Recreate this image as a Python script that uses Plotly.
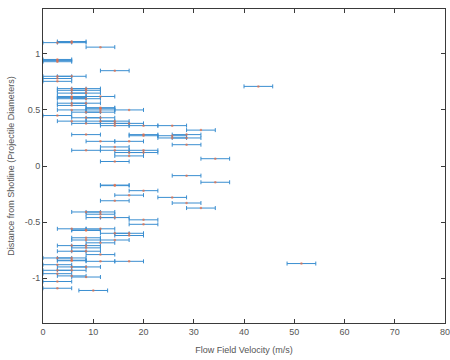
import plotly.graph_objects as go

U = 20.0 / 7.0  # velocity quantum (m/s)

# Each bar: distance from shotline, left/right velocity in units of U
dist = [
    1.11, 1.10, 1.10, 1.06, 0.95, 0.94, 0.93, 0.85, 0.80, 0.80, 0.78, 0.755, 0.71,
    0.69, 0.69, 0.675, 0.675, 0.65, 0.65, 0.62, 0.62, 0.61, 0.60, 0.60, 0.56, 0.56,
    0.54, 0.52, 0.515, 0.50, 0.50, 0.50, 0.48, 0.48, 0.45, 0.43, 0.43, 0.40, 0.40,
    0.40, 0.38, 0.38, 0.38, 0.36, 0.36, 0.36, 0.32, 0.28, 0.28, 0.28, 0.27, 0.27,
    0.25, 0.25, 0.22, 0.22, 0.19, 0.17, 0.14, 0.14, 0.14, 0.12, 0.12, 0.09, 0.065,
    0.04,
    -0.086, -0.145, -0.17, -0.175, -0.22, -0.26, -0.28, -0.31, -0.33, -0.375, -0.41,
    -0.41, -0.43, -0.46, -0.46, -0.48, -0.52, -0.56, -0.56, -0.57, -0.575, -0.60,
    -0.60, -0.62, -0.64, -0.66, -0.66, -0.685, -0.71, -0.71, -0.73, -0.76, -0.76,
    -0.79, -0.82, -0.82, -0.84, -0.845, -0.85, -0.85, -0.87, -0.88, -0.90, -0.90,
    -0.93, -0.93, -0.96, -0.98, -0.99, -1.03, -1.09, -1.11,
]
left_u = [
    1, 1, 0, 3, 0, 0, 0, 4, 1, 0, 0, 0, 14,
    1, 2, 1, 2, 1, 2, 1, 3, 1, 1, 2, 1, 2,
    1, 3, 3, 1, 3, 5, 2, 3, 0, 2, 3, 1, 3,
    4, 2, 4, 5, 4, 6, 8, 10, 2, 6, 9, 6, 8,
    8, 9, 3, 5, 9, 4, 2, 4, 6, 5, 6, 5, 11,
    4,
    9, 11, 4, 4, 6, 5, 8, 4, 9, 10, 2,
    3, 3, 3, 4, 6, 6, 1, 3, 2, 2, 4,
    5, 5, 2, 2, 4, 3, 1, 2, 2, 1, 2,
    3, 0, 1, 1, 1, 3, 5, 17, 0, 1, 2,
    0, 1, 0, 1, 2, 0, 0, 2.5,
]
right_u = [
    3, 3, 2, 5, 2, 2, 2, 6, 3, 2, 2, 2, 16,
    3, 4, 3, 4, 3, 4, 3, 5, 3, 3, 4, 3, 4,
    3, 5, 5, 3, 5, 7, 4, 5, 2, 4, 5, 3, 5,
    6, 4, 6, 7, 6, 8, 10, 12, 4, 8, 11, 8, 10,
    10, 11, 5, 7, 11, 6, 4, 6, 8, 7, 8, 7, 13,
    6,
    11, 13, 6, 6, 8, 7, 10, 6, 11, 12, 4,
    5, 5, 5, 6, 8, 8, 3, 5, 4, 4, 6,
    7, 7, 4, 4, 6, 5, 3, 4, 4, 3, 4,
    5, 2, 3, 3, 3, 5, 7, 19, 2, 3, 4,
    2, 3, 2, 3, 4, 2, 2, 4.5,
]

vel = [(a + b) / 2 * U for a, b in zip(left_u, right_u)]
verr = [(b - a) / 2 * U for a, b in zip(left_u, right_u)]

x_ticks = [0, 10, 20, 30, 40, 50, 60, 70, 80]
y_ticks = [-1, -0.5, 0, 0.5, 1]
y_ticklabels = ["-1", "-0.5", "0", "0.5", "1"]

blue = "#3a8ed0"
orange = "rgba(232,110,70,0.7)"

fig = go.Figure()
fig.add_trace(go.Scatter(
    x=vel, y=dist, mode="markers",
    marker=dict(size=2.5, color=orange),
    error_x=dict(type="data", array=verr, symmetric=True,
                 color=blue, thickness=1, width=2),
    showlegend=False, hoverinfo="skip",
))

font = dict(family="Liberation Sans, Arial, sans-serif", size=9, color="#555555")
axis_common = dict(
    showline=True, linecolor="#3a3a3a", linewidth=1, mirror="ticks",
    ticks="inside", ticklen=4, tickcolor="#3a3a3a", showgrid=False,
    zeroline=False, tickfont=font, automargin=False,
    ticklabeloverflow="allow",
)
fig.update_layout(
    width=450, height=360,
    margin=dict(l=43, r=5, t=9, b=37),
    paper_bgcolor="white", plot_bgcolor="white",
    font=font,
    xaxis=dict(range=[0, 80], tickvals=x_ticks,
               title=dict(text="Flow Field Velocity (m/s)", font=font, standoff=10),
               **axis_common),
    yaxis=dict(range=[-1.4, 1.4], tickvals=y_ticks, ticktext=y_ticklabels,
               title=dict(text="Distance from Shotline (Projectile Diameters)", font=font, standoff=8),
               **axis_common),
)
fig.write_html("out.html", config={"displayModeBar": False},
               post_script="document.body.style.margin='0';")
